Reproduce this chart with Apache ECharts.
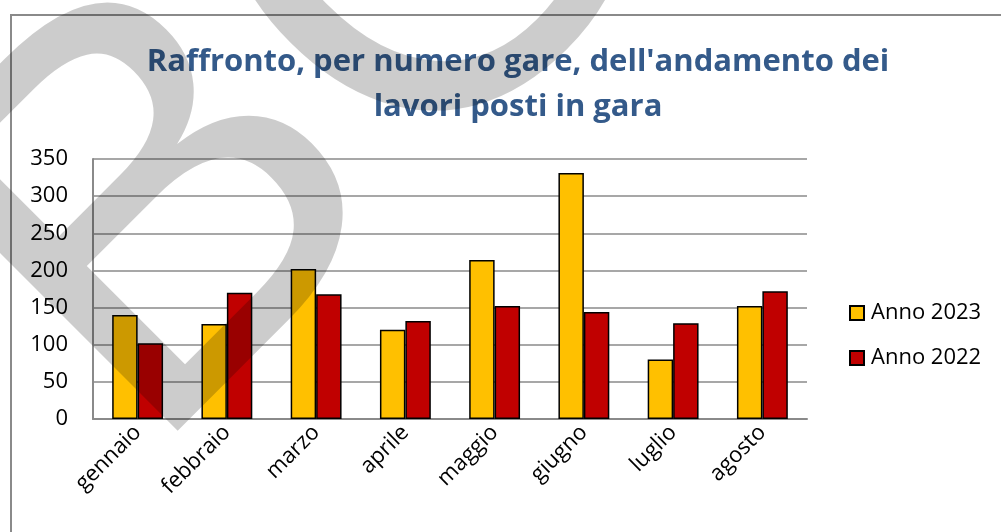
<!DOCTYPE html>
<html>
<head>
<meta charset="utf-8">
<script src="https://cdn.jsdelivr.net/npm/echarts@6/dist/echarts.min.js"></script>
<style>
  html, body { margin: 0; padding: 0; background: #fff; }
  #chart { width: 1001px; height: 532px; }
</style>
</head>
<body>
<div id="chart"></div>
<script>
const mesi = ['gennaio', 'febbraio', 'marzo', 'aprile', 'maggio', 'giugno', 'luglio', 'agosto'];
const anno2023 = [140, 128, 202, 120, 214, 331, 80, 152];
const anno2022 = [102, 170, 168, 132, 152, 144, 129, 172];
const yTicks = [0, 50, 100, 150, 200, 250, 300, 350];

const chartNode = document.getElementById('chart');
const myChart = echarts.init(chartNode, null, { renderer: 'canvas' });

const font = "'Open Sans', 'Noto Sans', sans-serif";

const option = {
  animation: false,
  backgroundColor: '#fff',
  title: {
    text: "Raffronto, per numero gare, dell'andamento dei\nlavori posti in gara",
    left: 513,
    top: 35,
    textAlign: 'center',
    textStyle: {
      fontFamily: font,
      fontWeight: 'bold',
      fontSize: 31,
      lineHeight: 45,
      color: '#345A8A'
    }
  },
  legend: {
    orient: 'vertical',
    left: 849,
    top: 302,
    padding: 0,
    itemWidth: 14,
    itemHeight: 14,
    itemGap: 23,
    icon: 'rect',
    textStyle: { fontFamily: font, fontSize: 22, color: '#000', padding: [0, 0, 0, 2] },
    data: ['Anno 2023', 'Anno 2022']
  },
  grid: { left: 93, right: 194, top: 159, bottom: 113, containLabel: false },
  xAxis: {
    type: 'category',
    data: mesi,
    axisLine: { show: true, lineStyle: { color: '#8a8a8a', width: 2 } },
    axisTick: { show: false },
    axisLabel: {
      rotate: 45,
      interval: 0,
      margin: 10,
      fontFamily: font,
      fontSize: 22,
      color: '#000'
    }
  },
  yAxis: {
    type: 'value',
    min: yTicks[0],
    max: yTicks[yTicks.length - 1],
    interval: 50,
    axisLine: { show: true, lineStyle: { color: '#8a8a8a', width: 2 } },
    axisTick: { show: false },
    axisLabel: { margin: 25, fontFamily: font, fontSize: 22, color: '#000' },
    splitLine: { lineStyle: { color: '#8a8a8a', width: 1.6 } }
  },
  series: [
    {
      name: 'Anno 2023',
      type: 'bar',
      data: anno2023,
      barGap: '0%',
      barCategoryGap: '43%',
      itemStyle: { color: '#FFC000', borderColor: '#000', borderWidth: 1.5 }
    },
    {
      name: 'Anno 2022',
      type: 'bar',
      data: anno2022,
      itemStyle: { color: '#C00000', borderColor: '#000', borderWidth: 1.5 }
    }
  ],
  graphic: [
    {
      type: 'rect',
      z: 50,
      shape: { x: 11, y: 15, width: 1010, height: 540 },
      style: { fill: 'none', stroke: '#8a8a8a', lineWidth: 2 }
    },
    {
      // filigrana "BOZZA"
      type: 'text',
      z: 100,
      x: 234,
      y: 552,
      rotation: Math.PI / 4,
      style: {
        text: 'BOZZA',
        fontSize: 560,
        fontFamily: "'Liberation Sans', Arial, sans-serif",
        fill: 'rgba(0,0,0,0.2)',
        align: 'left',
        verticalAlign: 'bottom'
      }
    }
  ]
};

if (option && typeof option === 'object') {
  myChart.setOption(option);
}
</script>
</body>
</html>
